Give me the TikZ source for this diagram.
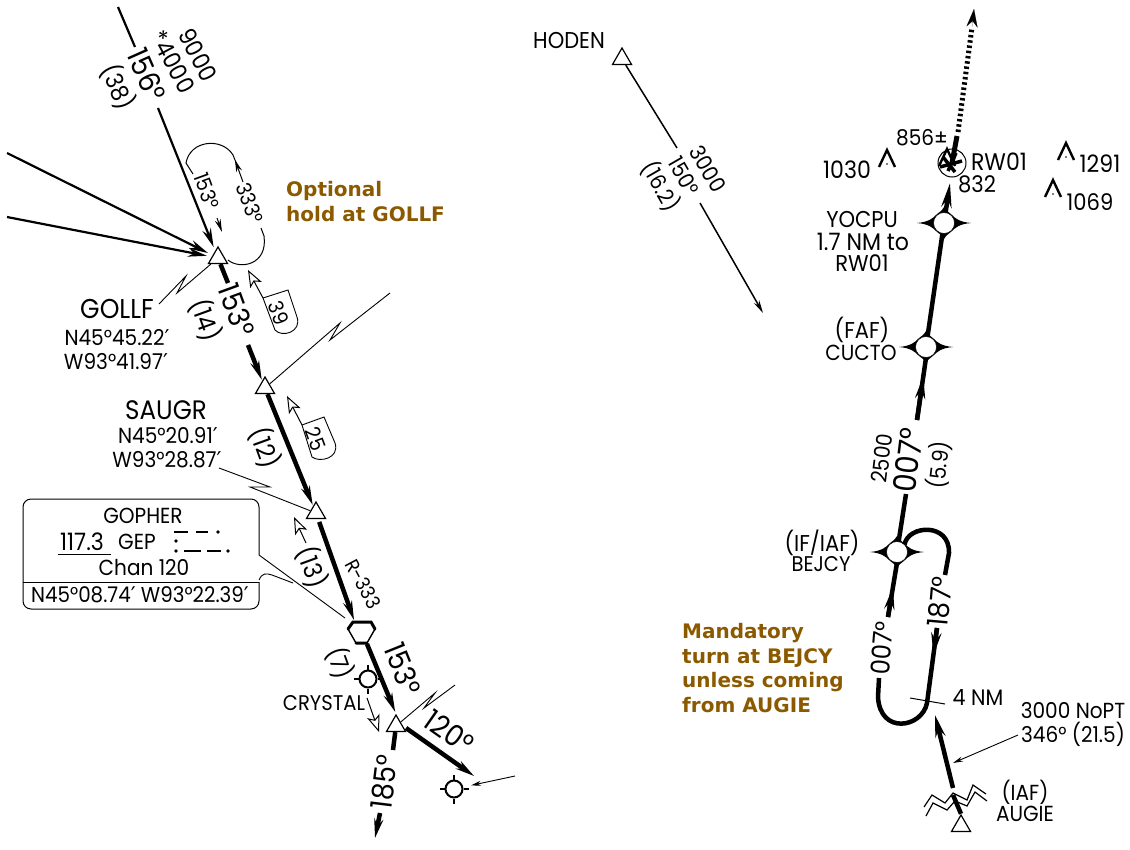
\documentclass[tikz,border=0pt]{standalone}
\usepackage{fontspec}
\setmainfont{Poppins}[FakeStretch=0.92]
\newfontfamily\notefont{DejaVu Sans}
\newfontfamily\primefont{DejaVu Sans}
\newcommand{\prm}{{\primefont ′}}
\usetikzlibrary{arrows.meta,shapes.geometric,calc}
\definecolor{notecol}{HTML}{8B5A00}
\newcommand{\fs}[1]{\fontsize{\fpeval{#1*1.09}}{\fpeval{#1*1.09}}\selectfont}
\newcommand{\fourstar}[3]{%
  \fill[shift={(#2,#3)}] (-27,0) .. controls (-15,-1) and (-11,-5) .. (-8,-8) .. controls (-6,-10) and (-2,-12) .. (0,-16)
    .. controls (2,-12) and (6,-10) .. (8,-8) .. controls (11,-5) and (15,-1) .. (27,0)
    .. controls (15,1) and (11,5) .. (8,8) .. controls (6,10) and (2,12) .. (0,16)
    .. controls (-2,12) and (-6,10) .. (-8,8) .. controls (-11,5) and (-15,1) .. (-27,0) -- cycle;
  \node[wpt] (#1) at (#2,#3) {};}
\newcommand{\tickring}[3]{%
  \node[ring] (#1) at (#2,#3) {};
  \draw[line width=1.5pt] (#1.north) -- ++(0,-5) (#1.south) -- ++(0,5) (#1.west) -- ++(-5,0) (#1.east) -- ++(5,0);}
\newcommand{\obst}[2]{\draw[line width=2.4pt] (#1-8,#2+8) -- (#1,#2-9) -- (#1+8,#2+8); \fill (#1,#2+5) circle (.9);}
\tikzset{
  lbl/.style={inner sep=0,font=\fs{20}},
  big/.style={inner sep=0,font=\fs{27}},
  mid/.style={inner sep=0,font=\fs{23}},
  sml/.style={inner sep=0,font=\fs{19}},
  note/.style={inner sep=0,align=left,anchor=north west,text=notecol,font=\notefont\bfseries\fontsize{20}{24.6}\selectfont},
  fixtri/.style={regular polygon,regular polygon sides=3,draw,fill=white,line width=1.2pt,minimum size=22pt,inner sep=0},
  wpt/.style={circle,fill=white,draw=black,line width=.5pt,minimum size=21pt,inner sep=0},
  ring/.style={circle,draw=black,fill=white,line width=2pt,minimum size=17pt,inner sep=0},
  thick route/.style={line width=4.5pt},
  route/.style={line width=2.2pt},
  tip/.style={-{Stealth[length=19pt,width=9pt]}},
  openarr/.style={-{Stealth[open,fill=white,length=17pt,width=13pt,inset=4pt]},line width=1pt},
  bigtip/.style={-{Stealth[length=22pt,width=10pt]}},
  leader/.style={line width=.9pt},
  zig/.style={line width=.9pt,line join=miter},
}
\begin{document}
\begin{tikzpicture}[x=1pt,y=-1pt]
\useasboundingbox (0,0) rectangle (1130,849);
% ---- fixes on the left route
\node[fixtri] (gollf) at (218,258) {};
\node[fixtri] (saugr) at (265,388) {};
\node[fixtri] (fix3) at (316,513) {};
\node[fixtri] (fix4) at (396,726) {};
\coordinate (a1) at (118,7); \coordinate (a2) at (135,47); \coordinate (a3) at (158,108);
\coordinate (b1) at (7,153); \coordinate (b2) at (7,217);
\coordinate (h1) at (217,218); \coordinate (h2) at (222,232);
\coordinate (c1) at (228,283); \coordinate (c2) at (248,345);
\coordinate (d1) at (406,728);
% routes
\draw[route] (a1) -- (a2);
\draw[route,tip,shorten >=4pt] (a3) -- (gollf);
\draw[route,tip,shorten >=5pt] (b1) -- (gollf);
\draw[route,tip,shorten >=5pt] (b2) -- (gollf);
\draw[thick route] (gollf) -- (c1);
\draw[thick route,tip,shorten >=1pt] (c2) -- (saugr);
\draw[thick route,tip,shorten >=1pt] (saugr) -- (fix3);
% hold at GOLLF
\draw[line width=1pt] (228,260) .. controls (240,270) and (268,265) .. (264,236) -- (261,228);
\draw[line width=1pt,-{Stealth[length=12pt,width=6pt]}] (243,182) -- (235,160);
\draw[line width=1pt] (237,165) -- (233,155) .. controls (222,137) and (190,140) .. (186,163) -- (193,174);
\draw[line width=1pt,-{Stealth[length=13pt,width=6pt]}] (h1) -- (h2);
\node[sml,rotate=-70] at (207,191) {153°};
\node[sml,rotate=-70] at (250,203) {333°};
% top labels
\node[mid,font=\fs{22},rotate=-62] at (198,55) {9000};
\node[mid,font=\fs{22},rotate=-62] at (173,62) {*4000};
\node[big,rotate=-66] at (147,75) {156°};
\node[mid,font=\fs{22},rotate=-66] at (118,87) {(38)};
\node[big,rotate=-70] at (237,310) {153°};
\node[mid,rotate=-70] at (206,320) {(14)};
% notes
\node[note] at (286,181) {Optional\\hold at GOLLF};
\node[note] at (682,623) {Mandatory\\turn at BEJCY\\unless coming\\from AUGIE};
% GOLLF
\node[lbl,font=\fs{25}] (tg) at (117,309) {GOLLF};
\node[lbl] (tg2) at (117,338) {N45°45.22\prm};
\node[lbl] (tg3) at (116,362) {W93°41.97\prm};
\coordinate (g1) at (177,293); \coordinate (g2) at (186,276); \coordinate (g3) at (159,304);
\draw[zig] (gollf) -- (g1) -- (g2) -- (g3);
% SAUGR
\node[lbl,font=\fs{24.5}] (ts) at (166,410) {SAUGR};
\node[lbl] (ts2) at (168,436) {N45°20.91\prm};
\node[lbl] (ts3) at (167,460) {W93°28.87\prm};
\coordinate (s2) at (340,323); \coordinate (s3) at (330,340); \coordinate (s4) at (390,293);
\draw[zig] (saugr) -- (s2) -- (s3) -- (s4);
\coordinate (z1) at (219,468); \coordinate (z2) at (270,487); \coordinate (z3) at (250,487);
\draw[zig] (z1) -- (z2) -- (z3) -- (fix3);
% speed notes
\coordinate (n39) at (263,298); \coordinate (t39) at (248,270);
\draw[openarr] (n39) -- (t39);
\draw[line width=.9pt] (n39) -- (288,290) -- (297,317) .. controls (302,332) and (282,338) .. (275,330) -- cycle;
\node[sml,rotate=-70] at (279,313) {39};
\coordinate (n25) at (302,425); \coordinate (t25) at (287,396);
\draw[openarr] (n25) -- (t25);
\draw[line width=.9pt] (n25) -- (324,417) -- (335,443) .. controls (340,458) and (320,463) .. (312,457) -- cycle;
\node[sml,rotate=-70] at (316,439) {25};
\node[mid,rotate=-70] at (265,448) {(12)};
% VOR box
\draw[line width=1pt,rounded corners=8pt,fill=white] (259,555) -- (259,499) -- (23,499) -- (23,609) -- (259,609) -- (259,582);
\draw[line width=1pt] (23,582) -- (259,582);
\coordinate (v1) at (259,555);
\node[lbl] (tv1) at (143,516) {GOPHER};
\node[lbl,font=\fs{22}] (tv2) at (82,542) {117.3};
\draw[line width=.9pt] (58,554) -- (111,554);
\node[lbl] (tv3) at (137,542) {GEP};
\node[lbl] (tv4) at (144,568) {Chan 120};
\node[lbl,font=\fs{19.8}] (tv5) at (140,595) {N45°08.74\prm{} W93°22.39\prm};
\draw[line width=2.5pt] (174,532) -- (188,532) (196,532) -- (208,532) (184,551) -- (201,551) (207,551) -- (221,551);
\fill (218,532) circle (1.8) (176,541) circle (1.8) (176,551) circle (1.8) (228,551) circle (1.8);
% hexagon
\coordinate (hexc) at (362,632);
\draw[line width=1.4pt,fill=white] (353,622) -- (371,622) -- (375,629) -- (367,643) -- (356,643) -- (348,629) -- cycle;
\draw[line width=3pt,line cap=round] (348,629) -- (353,622) -- (371,622) -- (375,629) (356,643) -- (367,643);
\draw[thick route,tip,shorten <=3pt] (fix3) -- (354,620);
\draw[line width=.9pt] (v1) -- (345,618);
\draw[line width=.9pt] (259,580) .. controls (262,573) and (266,573) .. (272,575) -- (293,583);
% R-333 etc
\node[sml,font=\fs{18},rotate=-62] at (363,584) {R-333};
\node[mid,rotate=-70] at (312,567) {(13)};
\coordinate (o1) at (306,543); \coordinate (o2) at (294,517);
\draw[openarr] (o1) -- (o2);
% crystal
\tickring{cry}{368}{679}
\coordinate (hx) at (367,644);
\draw[thick route,tip,shorten >=2pt] (hx) -- (fix4.north);
\node[mid,font=\fs{22},rotate=-70] at (340,663) {(7)};
\node[big,rotate=-68] at (403,669) {153°};
\node[lbl,font=\fs{19.5}] (tc) at (324,703) {CRYSTAL};
\coordinate (c1b) at (367,698); \coordinate (c2b) at (379,732);
\draw[openarr] (c1b) -- (c2b);
\draw[zig] (fix4) -- (435,693) -- (424,708) -- (455,685);
\node[big,rotate=-35] at (449,732) {120°};
\tickring{ring2}{454}{789}
\coordinate (r1) at (474,776);
\draw[thick route,tip] (d1) -- (r1);
\coordinate (r2) at (515,776);
\draw[line width=.9pt,-{Stealth[length=10pt,width=5pt]},shorten >=8pt] (r2) -- (ring2);
\coordinate (e1) at (393,750); \coordinate (e2) at (380,813); \coordinate (e3) at (375,838);
\draw[thick route] (fix4) -- (e1);
\draw[thick route,tip] (e2) -- (e3);
\node[big,rotate=83] at (384,782) {185°};
% HODEN
\node[lbl,font=\fs{21}] (th) at (569,41) {HODEN};
\node[fixtri] (hoden) at (622,59) {};
\coordinate (h3) at (677,148); \coordinate (h4) at (700,203); \coordinate (h5) at (763,313);
\draw[line width=1.5pt] (hoden) -- (h3);
\draw[line width=1.5pt,-{Stealth[length=13pt,width=6pt]}] (h4) -- (h5);
\node[lbl,rotate=-60] at (708,169) {3000};
\node[lbl,rotate=-60] at (684,176) {150°};
\node[lbl,rotate=-60] at (661,186) {(16.2)};
% right route, waypoints
\fourstar{yocpu}{944}{223}
\fourstar{cucto}{926}{347}
\coordinate (rw) at (952,163);
\fourstar{bejcy}{897}{552}
\node[circle,draw,line width=1pt,minimum size=28pt,inner sep=0] (rwc) at (rw) {};
\coordinate (m1) at (957,136); \coordinate (m2) at (974,9); \coordinate (m3) at (972,27); \coordinate (m4) at (958,132);
\draw[line width=5pt,dash pattern=on 2.5pt off 2.8pt] (m4) -- (m3);
\draw[-{Stealth[length=18pt,width=11pt]},line width=.1pt] (m3) -- (m2);
\draw[line width=5pt] (m1) -- (rw);
\obst{947}{158}
\draw[line width=3.5pt] (rw) ++(-9,-6) -- ++(12,15) (rw) ++(-12,4) -- ++(22,-6) (rw) ++(-4,8) -- ++(8,-18);
\coordinate (y1) at (950,183);
\draw[thick route,-{Stealth[length=24pt,width=10pt]}] (yocpu) -- (y1);
\draw[thick route] (yocpu) -- (cucto);
\coordinate (c3) at (917,420);
\draw[thick route,bigtip] (c3) -- ($(c3)!.7!(cucto.south)$);
\draw[thick route] (c3) -- (cucto.south);
\coordinate (c4) at (906,494);
\draw[thick route] (c4) -- (bejcy);
\node[lbl,font=\fs{20},rotate=83] at (882,458) {2500};
\node[big,font=\fs{29},rotate=83] at (908,460) {007°};
\node[lbl,font=\fs{20},rotate=83] at (939,465) {(5.9)};
\node[lbl,font=\fs{21}] (ty1) at (862,219) {YOCPU};
\node[lbl,font=\fs{22}] (ty2) at (863,242) {1.7 NM to};
\node[lbl,font=\fs{21}] (ty3) at (862,263) {RW01};
\node[lbl,font=\fs{21}] (tf1) at (862,330) {(FAF)};
\node[lbl,font=\fs{20}] (tf2) at (861,353) {CUCTO};
\node[lbl,font=\fs{21}] (ti1) at (822,543) {(IF/IAF)};
\node[lbl,font=\fs{19.5}] (ti2) at (821,564) {BEJCY};
% obstacles
\obst{887}{159}
\obst{1066}{152}
\obst{1053}{189}
\node[lbl,font=\fs{22}] (o1030) at (847,170) {1030};
\node[lbl,font=\fs{20}] (o856) at (922,138) {856±};
\node[lbl,font=\fs{22}] (orw) at (999,162) {RW01};
\node[lbl,font=\fs{21}] (o832) at (977,184) {832};
\node[lbl,font=\fs{22}] (o1291) at (1100,164) {1291};
\node[lbl,font=\fs{21}] (o1069) at (1090,202) {1069};
% procedure turn
\coordinate (p1) at (945,575); \coordinate (p2) at (937,628); \coordinate (p3) at (927,703);
\coordinate (p4) at (879,678); \coordinate (p5) at (888,617);
\draw[thick route] (bejcy.north east) .. controls (908,525) and (950,522) .. (949,553) -- (p1);
\draw[thick route,bigtip] (p2) -- ($(p2)!.36!(p3)$);
\draw[thick route] (p2) -- (p3) .. controls (922,728) and (880,735) .. (878,697) -- (p4);
\draw[thick route,bigtip] (p5) -- ($(p5)!.55!(bejcy.south)$);
\draw[thick route] (p5) -- (bejcy.south);
\node[big,font=\fs{26},rotate=85] at (940,602) {187°};
\node[big,font=\fs{24},rotate=85] at (882,648) {007°};
\draw[line width=1pt] (910,698) -- (945,704);
\node[lbl,font=\fs{20.5}] (t4) at (978,697) {4 NM};
\node[lbl,font=\fs{20}] (t30) at (1073,711) {3000 NoPT};
\node[lbl,font=\fs{20}] (t31) at (1073,734) {346° (21.5)};
% AUGIE
\node[fixtri] (augie) at (961,826) {};
\coordinate (q1) at (935,715);
\coordinate (q2) at (953,788);
\draw[thick route,bigtip] (q2) -- (q1);
\draw[line width=.9pt,-{Stealth[length=10pt,width=5pt]}] (1018,735) -- (953,763);
\draw[line width=1.2pt] (924,807) -- (932,795) -- (945,803) -- (953,793) -- (967,800) -- (973,785) -- (986,794);
\draw[line width=1.2pt] (926,816) -- (933,803) -- (947,810) -- (955,801) -- (967,806) -- (975,792) -- (987,801);
\draw[thick route] (953,795) -- (augie.north);
\node[lbl,font=\fs{20}] (ta1) at (1025,792) {(IAF)};
\node[lbl] (ta2) at (1025,814) {AUGIE};
\end{tikzpicture}
\end{document}
